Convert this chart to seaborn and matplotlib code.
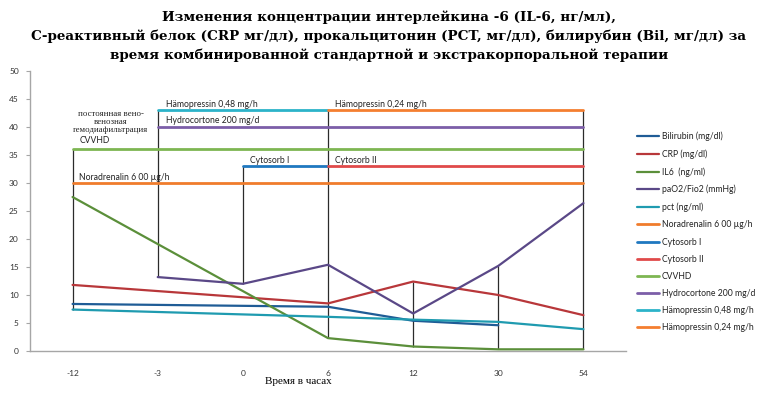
import numpy as np
import pandas as pd
import matplotlib
matplotlib.use("Agg")
import matplotlib.pyplot as plt
import seaborn as sns

# ---- data ----
hours = ["-12", "-3", "0", "6", "12", "30", "54"]
nan = np.nan
bilirubin = [8.4, nan, nan, 7.9, 5.4, 4.6, nan]
crp = [11.8, nan, nan, 8.5, 12.4, 10.0, 6.4]
il6 = [27.5, nan, nan, 2.3, 0.8, 0.3, 0.3]
pao2 = [nan, 13.2, 12.0, 15.4, 6.7, 15.2, 26.4]
pct = [7.4, nan, nan, 6.1, 5.6, 5.2, 3.9]
noradrenalin = [30, nan, nan, nan, nan, nan, 30]
cytosorb1 = [nan, nan, 33, 33, nan, nan, nan]
cytosorb2 = [nan, nan, nan, 33, nan, nan, 33]
cvvhd = [36, nan, nan, nan, nan, nan, 36]
hydrocortone = [nan, 40, nan, nan, nan, nan, 40]
haemo048 = [nan, 43, nan, 43, nan, nan, nan]
haemo024 = [nan, nan, nan, 43, nan, nan, 43]

series_names = ["Bilirubin (mg/dl)", "CRP (mg/dl)", "IL6  (ng/ml)", "paO2/Fio2 (mmHg)",
                "pct (ng/ml)", "Noradrenalin 6 00 µg/h", "Cytosorb I", "Cytosorb II",
                "CVVHD", "Hydrocortone 200 mg/d", "Hämopressin 0,48 mg/h",
                "Hämopressin 0,24 mg/h"]
series_values = [bilirubin, crp, il6, pao2, pct, noradrenalin, cytosorb1, cytosorb2,
                 cvvhd, hydrocortone, haemo048, haemo024]
colors = ["#1f5c96", "#b8373a", "#5b8f3a", "#5a4887", "#1f9bb0", "#f07c2c",
          "#1f78c0", "#e04a4a", "#7db652", "#7c5ea8", "#2cb3c9", "#f47e30"]
widths = [1.6, 1.6, 1.6, 1.6, 1.6, 2.0, 2.0, 2.0, 2.0, 2.0, 2.0, 2.0]

title = ("Изменения концентрации интерлейкина -6 (IL-6, нг/мл),\n"
         "С-реактивный белок (CRP мг/дл), прокальцитонин (PCT, мг/дл), билирубин (Bil, мг/дл) за\n"
         "время комбинированной стандартной и экстракорпоральной терапии")

rows = []
for name, vals in zip(series_names, series_values):
    for i, v in enumerate(vals):
        if not np.isnan(v):
            rows.append({"series": name, "pos": i, "value": v})
df = pd.DataFrame(rows)

sns.set_style("white")
plt.rcParams["font.family"] = ["Lato", "DejaVu Sans"]

fig = plt.figure(figsize=(7.59, 3.94), dpi=100)
ax = fig.add_axes([30 / 759, 1 - 351 / 394, 596 / 759, 280 / 394])

# high-low lines
wide = df.pivot(index="pos", columns="series", values="value")
ax.vlines(wide.index, wide.min(axis=1), wide.max(axis=1), color="#2b2b2b", lw=0.9, zorder=1)

for name, col, lw in zip(series_names, colors, widths):
    sub = df[df["series"] == name]
    sns.lineplot(data=sub, x="pos", y="value", color=col, lw=lw, ax=ax,
                 estimator=None, sort=True, label=name, zorder=3)

ax.set_xlim(-0.5, 6.5)
ax.set_ylim(0, 50)
ax.set_yticks(np.arange(0, 51, 5))
ax.set_xticks(range(len(hours)))
ax.set_xticklabels(hours)
ax.set_xlabel("")
ax.set_ylabel("")
for s in ["top", "right"]:
    ax.spines[s].set_visible(False)
for s in ["left", "bottom"]:
    ax.spines[s].set_color("#a6a6a6")
    ax.spines[s].set_linewidth(1.0)
ax.tick_params(axis="y", length=3, width=0.8, color="#a6a6a6", labelsize=6, pad=5,
               left=True, labelcolor="#333333")
ax.tick_params(axis="x", length=0, labelsize=6, pad=14, labelcolor="#333333")

# annotations
lab = dict(fontsize=6.2, color="#222222")
ax.text(1.1, 43.6, "Hämopressin 0,48 mg/h", **lab)
ax.text(1.1, 40.7, "Hydrocortone 200 mg/d", **lab)
ax.text(3.08, 43.6, "Hämopressin 0,24 mg/h", **lab)
ax.text(2.08, 33.6, "Cytosorb I", **lab)
ax.text(3.08, 33.6, "Cytosorb II", **lab)
ax.text(0.08, 30.6, "Noradrenalin 6 00 µg/h", **lab)
ax.text(0.45, 40.9, "постоянная вено-\nвенозная\nгемодиафильтрация",
        fontsize=6.3, family="Liberation Serif", ha="center", va="center",
        linespacing=1.05, color="#222222")
ax.text(0.08, 37.2, "CVVHD", **lab)

leg = ax.legend(loc="upper left", bbox_to_anchor=(629 / 759, 1 - 124 / 394),
                bbox_transform=fig.transFigure, frameon=False, fontsize=6.2,
                handlelength=2.6, handletextpad=0.3, labelspacing=0.95)
for t in leg.get_texts():
    t.set_color("#222222")

fig.text(389 / 759, 1 - 10 / 394, title, ha="center", va="top", fontsize=9.7,
         fontweight="bold", family="DejaVu Serif", linespacing=1.55, color="black")
fig.text(298 / 759, 1 - 381 / 394, "Время в часах", ha="center", va="center",
         fontsize=8, family="Liberation Serif", color="black")

fig.savefig("out.png", dpi=100)
